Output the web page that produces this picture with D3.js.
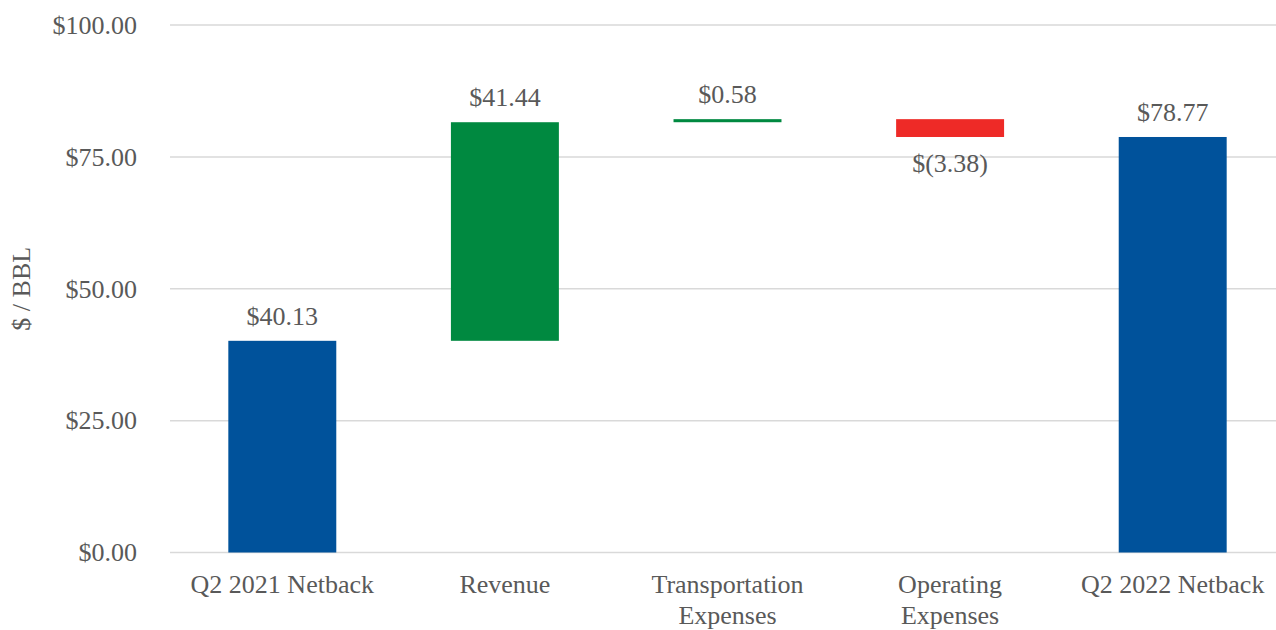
<!DOCTYPE html>
<html>
<head>
<meta charset="utf-8">
<script src="https://cdn.jsdelivr.net/npm/d3@7"></script>
<style>
  body { margin: 0; background: #fff; }
  svg text { font-family: "Liberation Serif", "LiberationSerif", "Times New Roman", Times, "DejaVu Serif", serif !important; fill: #595959; }
</style>
</head>
<body>
<div id="chart"></div>
<script>
const categories = ['Q2 2021 Netback', 'Revenue', 'Transportation Expenses', 'Operating Expenses', 'Q2 2022 Netback']
const tickLines = [['Q2 2021 Netback'], ['Revenue'], ['Transportation', 'Expenses'], ['Operating', 'Expenses'], ['Q2 2022 Netback']]
const values = [40.13, 41.44, 0.58, -3.38, 78.77]
const kinds = ['total', 'delta', 'delta', 'delta', 'total']
const yTickValues = [0, 25, 50, 75, 100]
const yLabel = '$ / BBL'

const colors = { total: '#00529B', up: '#008940', down: '#EE2A27' }

const width = 1276
const height = 630

// running totals for the waterfall
let run = 0
const bars = categories.map((c, i) => {
  const v = values[i]
  let y0, y1, kind
  if (kinds[i] === 'total') {
    y0 = 0; y1 = v; run = v; kind = 'total'
  } else {
    y0 = run; y1 = run + v; run = y1; kind = v >= 0 ? 'up' : 'down'
  }
  return { cat: c, value: v, lo: Math.min(y0, y1), hi: Math.max(y0, y1), kind }
})

const xScale = d3.scaleBand()
  .domain(categories)
  .range([171, 1284])
  .paddingInner(0.515)
  .paddingOuter(0.2575)

const yScale = d3.scaleLinear()
  .domain([0, 100])
  .range([552.5, 25])

const svg = d3.select('#chart').append('svg')
  .attr('width', width)
  .attr('height', height)

// gridlines
svg.append('g')
  .selectAll('line')
  .data(yTickValues)
  .join('line')
  .attr('x1', 170)
  .attr('x2', width)
  .attr('y1', d => yScale(d))
  .attr('y2', d => yScale(d))
  .attr('stroke', '#d9d9d9')
  .attr('stroke-width', 1.5)

// y axis labels
const yAxis = d3.axisLeft(yScale)
  .tickValues(yTickValues)
  .tickFormat(d3.format('$,.2f'))
  .tickSize(0)
  .tickPadding(33)

const yAxisG = svg.append('g')
  .attr('transform', 'translate(170,0)')
  .call(yAxis)
  .attr('font-family', null)
yAxisG.select('.domain').remove()
yAxisG.selectAll('text')
  .style('font-size', '26px')
  .attr('fill', '#595959')

svg.append('text')
  .attr('transform', `translate(30,${(yScale(0) + yScale(100)) / 2}) rotate(-90)`)
  .attr('text-anchor', 'middle')
  .style('font-size', '26px')
  .text(yLabel)

// bars
svg.append('g')
  .selectAll('rect')
  .data(bars)
  .join('rect')
  .attr('x', d => xScale(d.cat))
  .attr('width', xScale.bandwidth())
  .attr('y', d => yScale(d.hi))
  .attr('height', d => yScale(d.lo) - yScale(d.hi))
  .attr('fill', d => colors[d.kind])

// value labels
const fmt = d3.format(',.2f')
svg.append('g')
  .selectAll('text')
  .data(bars)
  .join('text')
  .attr('x', d => xScale(d.cat) + xScale.bandwidth() / 2)
  .attr('y', d => d.value < 0 ? yScale(d.lo) + 35 : yScale(d.hi) - 16)
  .attr('text-anchor', 'middle')
  .style('font-size', '26px')
  .text(d => d.value < 0 ? `$(${fmt(-d.value)})` : `$${fmt(d.value)}`)

// x axis labels
const xAxisG = svg.append('g')
xAxisG.selectAll('text')
  .data(categories)
  .join('text')
  .attr('x', d => xScale(d) + xScale.bandwidth() / 2)
  .attr('y', 593)
  .attr('text-anchor', 'middle')
  .style('font-size', '26px')
  .each(function (d, i) {
    d3.select(this).selectAll('tspan')
      .data(tickLines[i])
      .join('tspan')
      .attr('x', xScale(d) + xScale.bandwidth() / 2)
      .attr('dy', (t, j) => j === 0 ? 0 : 31)
      .text(t => t)
  })
</script>
</body>
</html>
